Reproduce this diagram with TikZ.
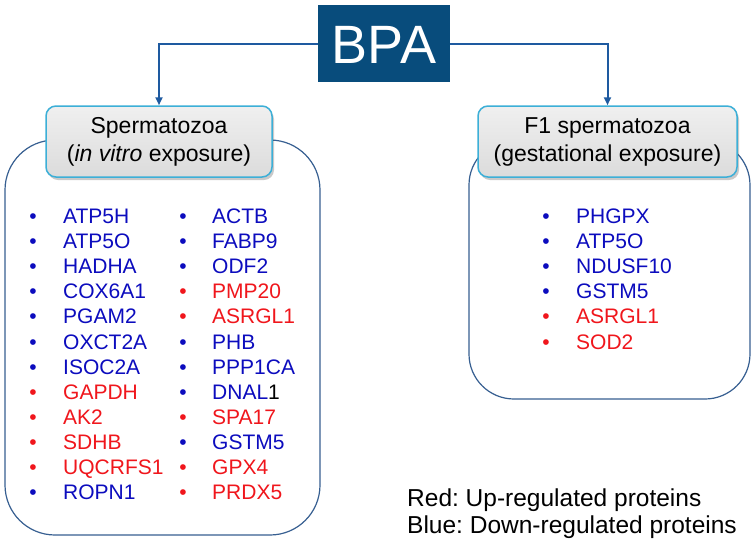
\documentclass[tikz,border=0pt]{standalone}
\usepackage{fontspec}
\setmainfont{Liberation Sans}
\usetikzlibrary{shadows,arrows.meta}
\definecolor{bpablue}{RGB}{8,76,124}
\definecolor{linkblue}{RGB}{30,90,160}
\definecolor{boxline}{RGB}{55,95,145}
\definecolor{hdrline}{RGB}{60,175,215}
\definecolor{txtblue}{RGB}{12,12,190}
\definecolor{txtred}{RGB}{240,22,28}
\newcommand\dnalone{DNAL\textcolor{black}{1}}
\frenchspacing
\begin{document}
\begin{tikzpicture}[x=1pt,y=-1pt,
  bpabox/.style={fill=bpablue, text=white, inner sep=0pt, minimum width=132pt, minimum height=77pt,
    font=\fontsize{54}{54}\selectfont, text height=39pt, text depth=0pt},
  panel/.style={draw=boxline, line width=1.2pt, fill=white},
  hdr/.style={draw=hdrline, line width=1.5pt, rounded corners=10pt, top color=gray!12, bottom color=gray!28,
    minimum height=71pt, align=center, font=\fontsize{23}{28}\selectfont,
    drop shadow={shadow xshift=2pt, shadow yshift=-3pt, opacity=0.35, fill=black!60}},
  link/.style={draw=linkblue, line width=2pt, -{Triangle[length=8pt,width=7pt]}},
  gene/.style={anchor=west, inner sep=0pt, font=\fontsize{21}{21}\selectfont, text height=15pt, text depth=0pt},
  dot/.style={inner sep=0pt, font=\fontsize{21}{21}\selectfont, text height=15pt, text depth=0pt},
  legend/.style={anchor=west, inner sep=0pt, font=\fontsize{24.5}{24.5}\selectfont, text height=17.5pt, text depth=0pt}
]
\useasboundingbox (0,0) rectangle (756,542);
% panels
\node[panel, rounded corners=50pt, minimum width=315pt, minimum height=395pt] (lpanel) at (162.5,337.5) {};
\node[panel, rounded corners=45pt, minimum width=281pt, minimum height=259pt] (rpanel) at (609.5,269.5) {};
% headers
\node[hdr, minimum width=226pt] (lhdr) at (159,141.5) {Spermatozoa\\(\textit{in vitro} exposure)};
\node[hdr, minimum width=259pt] (rhdr) at (607.5,141.5) {F1 spermatozoa\\(gestational exposure)};
% BPA
\node[bpabox] (bpa) at (384,43.5) {BPA};
\draw[link] (bpa.west) -| (lhdr.north);
\draw[link] (bpa.east) -| (rhdr.north);
% left list, column 1
\foreach \n/\c [count=\i] in {ATP5H/txtblue, ATP5O/txtblue, HADHA/txtblue, COX6A1/txtblue, PGAM2/txtblue,
  OXCT2A/txtblue, ISOC2A/txtblue, GAPDH/txtred, AK2/txtred, SDHB/txtred, UQCRFS1/txtred, ROPN1/txtblue}{
  \node[dot, text=\c] (ba\i) at (33,{216+25.1*(\i-1)}) {•};
  \node[gene, text=\c] (ga\i) at (63,{216+25.1*(\i-1)}) {\n};
}
% left list, column 2
\foreach \n/\c [count=\i] in {ACTB/txtblue, FABP9/txtblue, ODF2/txtblue, PMP20/txtred, ASRGL1/txtred,
  PHB/txtblue, PPP1CA/txtblue, \dnalone/txtblue, SPA17/txtred, GSTM5/txtblue, GPX4/txtred, PRDX5/txtred}{
  \node[dot, text=\c] (bb\i) at (183,{216+25.1*(\i-1)}) {•};
  \node[gene, text=\c] (gb\i) at (212,{216+25.1*(\i-1)}) {\n};
}
% right list
\foreach \n/\c [count=\i] in {PHGPX/txtblue, ATP5O/txtblue, NDUSF10/txtblue, GSTM5/txtblue, ASRGL1/txtred, SOD2/txtred}{
  \node[dot, text=\c] (bc\i) at (546,{216+25.1*(\i-1)}) {•};
  \node[gene, text=\c] (gc\i) at (576,{216+25.1*(\i-1)}) {\n};
}
% legend
\node[legend] (legred) at (407,498) {Red: Up-regulated proteins};
\node[legend] (legblue) at (407,525) {Blue: Down-regulated proteins};
\end{tikzpicture}
\end{document}
